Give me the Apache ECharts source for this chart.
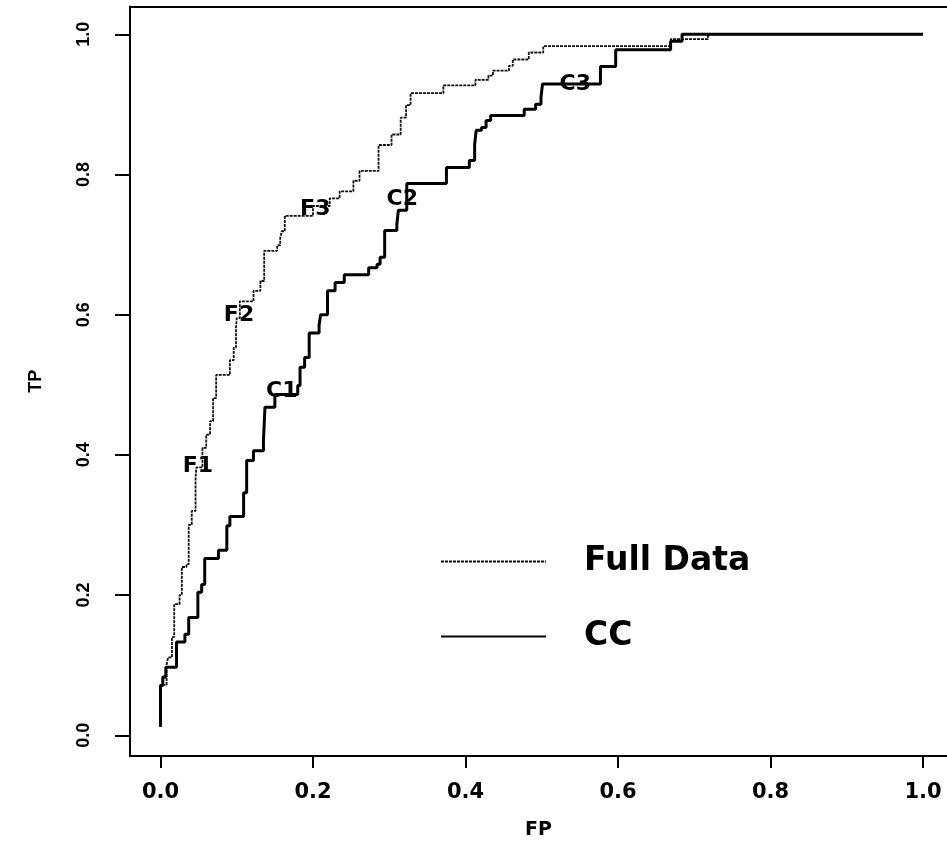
<!DOCTYPE html>
<html>
<head>
<meta charset="utf-8">
<script src="https://cdn.jsdelivr.net/npm/echarts@6/dist/echarts.min.js"></script>
<style>
html,body{margin:0;padding:0;background:#fff;}
#chart{width:947px;height:845px;}
</style>
</head>
<body>
<div id="chart"></div>
<script>
// ---- data ----
const seriesNames = ['Full Data', 'CC'];
const tickValues = [0, 0.2, 0.4, 0.6, 0.8, 1.0];

const fpFull = [0, 0, 0.008, 0.01, 0.015, 0.018, 0.025, 0.028, 0.034, 0.037, 0.041, 0.046, 0.047, 0.055, 0.06, 0.065, 0.069, 0.073, 0.091, 0.096, 0.099, 0.1, 0.104, 0.122, 0.131, 0.136, 0.153, 0.157, 0.159, 0.163, 0.2, 0.222, 0.235, 0.253, 0.261, 0.286, 0.303, 0.315, 0.322, 0.328, 0.371, 0.413, 0.43, 0.436, 0.457, 0.462, 0.483, 0.502, 0.669, 0.718, 1.0];
const tpFull = [0.012, 0.072, 0.101, 0.111, 0.14, 0.187, 0.2, 0.24, 0.244, 0.3, 0.32, 0.367, 0.382, 0.41, 0.429, 0.448, 0.481, 0.514, 0.535, 0.553, 0.581, 0.595, 0.619, 0.634, 0.648, 0.691, 0.699, 0.709, 0.719, 0.741, 0.755, 0.766, 0.776, 0.791, 0.805, 0.842, 0.857, 0.881, 0.899, 0.916, 0.927, 0.935, 0.941, 0.948, 0.955, 0.964, 0.974, 0.983, 0.993, 1.0, 1.0];

const fpCC = [0, 0, 0.003, 0.007, 0.021, 0.032, 0.037, 0.049, 0.054, 0.058, 0.076, 0.087, 0.091, 0.109, 0.113, 0.122, 0.135, 0.137, 0.15, 0.18, 0.183, 0.189, 0.195, 0.208, 0.21, 0.219, 0.229, 0.241, 0.273, 0.284, 0.288, 0.294, 0.31, 0.312, 0.323, 0.375, 0.405, 0.412, 0.414, 0.421, 0.427, 0.433, 0.477, 0.492, 0.499, 0.501, 0.577, 0.597, 0.669, 0.684, 1.0];
const tpCC = [0.012, 0.071, 0.083, 0.097, 0.133, 0.144, 0.168, 0.204, 0.215, 0.252, 0.264, 0.299, 0.312, 0.346, 0.392, 0.406, 0.42, 0.468, 0.486, 0.499, 0.525, 0.539, 0.574, 0.585, 0.6, 0.634, 0.646, 0.657, 0.667, 0.672, 0.682, 0.72, 0.729, 0.749, 0.787, 0.81, 0.82, 0.843, 0.863, 0.867, 0.877, 0.884, 0.893, 0.9, 0.91, 0.929, 0.954, 0.978, 0.99, 1.0, 1.0];

const markNames = ['F1', 'F2', 'F3', 'C1', 'C2', 'C3'];
const markFP = [0.049, 0.103, 0.203, 0.159, 0.317, 0.544];
const markTP = [0.384, 0.599, 0.751, 0.49, 0.764, 0.929];

// ---- build ----
const zip = (xs, ys) => xs.map((x, i) => [x, ys[i]]);
const chart = echarts.init(document.getElementById('chart'), null, {renderer: 'canvas'});

const X_MIN = -0.04, X_MAX = 1.0315;
const Y_MIN = -0.0296, Y_MAX = 1.0396;

const option = {
  animation: false,
  backgroundColor: '#ffffff',
  grid: {left: 130, right: 0, top: 6.5, bottom: 86.5, show: false},
  legend: {
    data: seriesNames,
    orient: 'vertical',
    left: 440, top: 545, padding: 0,
    itemWidth: 105, itemHeight: 30, itemGap: 42,
    selectedMode: false,
    itemStyle: {opacity: 0},
    textStyle: {
      fontFamily: 'DejaVu Sans', fontWeight: 'bold', fontSize: 33, color: '#000',
      lineHeight: 30, padding: [0, 0, 0, 33]
    }
  },
  xAxis: [
    {
      type: 'value', min: X_MIN, max: X_MAX, position: 'bottom',
      name: 'FP', nameLocation: 'middle', nameGap: 65,
      nameTextStyle: {fontFamily: 'DejaVu Sans', fontWeight: 'bold', fontSize: 19, color: '#000'},
      splitLine: {show: false},
      axisLine: {show: true, onZero: false, lineStyle: {color: '#000', width: 2}},
      axisTick: {show: true, length: 12, lineStyle: {color: '#000', width: 2}, customValues: tickValues},
      axisLabel: {
        customValues: tickValues, margin: 26,
        formatter: v => Number(v).toFixed(1),
        fontFamily: 'DejaVu Sans', fontWeight: 'bold', fontSize: 21, color: '#000'
      }
    },
    {
      type: 'value', min: X_MIN, max: X_MAX, position: 'top',
      splitLine: {show: false},
      axisLine: {show: true, onZero: false, lineStyle: {color: '#000', width: 2}},
      axisTick: {show: false},
      axisLabel: {show: false}
    }
  ],
  yAxis: {
    type: 'value', min: Y_MIN, max: Y_MAX,
    name: 'TP', nameLocation: 'middle', nameGap: 85,
    nameTextStyle: {fontFamily: 'Liberation Sans', fontWeight: 'bold', fontSize: 18, color: '#000'},
    splitLine: {show: false},
    axisLine: {show: true, onZero: false, lineStyle: {color: '#000', width: 2}},
    axisTick: {show: true, length: 15, lineStyle: {color: '#000', width: 2}, customValues: tickValues},
    axisLabel: {
      customValues: tickValues, margin: 37, rotate: 90,
      formatter: v => Number(v).toFixed(1),
      fontFamily: 'Liberation Sans', fontWeight: 'bold', fontSize: 18, color: '#000'
    }
  },
  series: [
    {
      name: seriesNames[0], type: 'line', step: 'end',
      data: zip(fpFull, tpFull),
      symbol: 'none', showSymbol: false,
      lineStyle: {color: '#111', width: 1.8, type: [3, 1]},
      itemStyle: {color: '#111'},
      z: 2
    },
    {
      name: seriesNames[1], type: 'line', step: 'end',
      data: zip(fpCC, tpCC),
      symbol: 'none', showSymbol: false,
      lineStyle: {color: '#000', width: 3},
      itemStyle: {color: '#000'},
      z: 3
    },
    {
      name: 'labels', type: 'scatter',
      data: markNames.map((n, i) => ({name: n, value: [markFP[i], markTP[i]]})),
      symbolSize: 0,
      itemStyle: {color: '#000', opacity: 1},
      label: {
        show: true, position: 'inside', formatter: p => p.name, opacity: 1,
        fontFamily: 'DejaVu Sans', fontWeight: 'bold', fontSize: 22, color: '#000'
      },
      z: 5
    }
  ]
};
chart.setOption(option);
</script>
</body>
</html>
